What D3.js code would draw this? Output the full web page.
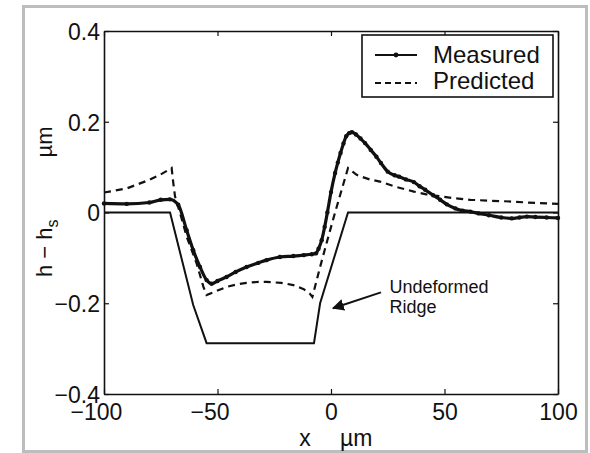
<!DOCTYPE html>
<html>
<head>
<meta charset="utf-8">
<script src="https://cdn.jsdelivr.net/npm/d3@7"></script>
<style>
  body { margin: 0; background: #fff; }
  text { font-family: "Liberation Sans", Arial, sans-serif; fill: #111; }
</style>
</head>
<body>
<div id="chart"></div>
<script>
// measured profile (solid, dots)
const measuredX = [-100, -90, -80, -75, -71, -67.3, -63.6, -60.7, -57.7, -54.8, -52.6, -50, -46, -42, -37.2, -32, -28.4, -22.5, -16.6, -12, -8.5, -6.6, -5.5, -4.1, -2.8, -1.6, 0, 1.8, 3, 4.2, 5.5, 6.7, 8, 9.2, 11, 13, 15, 17.5, 20, 22, 25, 28, 30, 33, 36.5, 39, 41.5, 45, 48.1, 51, 54.8, 58, 61.4, 65, 69.6, 75, 79.6, 83, 86.3, 90, 95, 100];
const measuredY = [0.020, 0.019, 0.022, 0.028, 0.029, 0.017, -0.039, -0.083, -0.120, -0.149, -0.157, -0.151, -0.142, -0.131, -0.120, -0.111, -0.105, -0.098, -0.096, -0.094, -0.092, -0.090, -0.080, -0.061, -0.032, 0.000, 0.045, 0.087, 0.110, 0.131, 0.152, 0.168, 0.175, 0.177, 0.172, 0.163, 0.153, 0.138, 0.123, 0.109, 0.090, 0.082, 0.079, 0.073, 0.067, 0.058, 0.050, 0.038, 0.028, 0.018, 0.009, 0.004, 0.002, -0.002, -0.006, -0.011, -0.013, -0.011, -0.009, -0.010, -0.011, -0.012];

// predicted profile (dashed)
const predictedX = [-100, -90, -80, -75, -70.2, -69.6, -68.7, -66, -63.6, -59.2, -56.2, -54.8, -50, -46, -42, -37.2, -32, -28.4, -22, -16.6, -12, -9.3, -8.2, -4.8, -1.6, 1.8, 5.1, 7.5, 9.5, 11.3, 13.4, 17, 21.6, 28.3, 36.5, 42, 49, 55, 61.4, 70, 80, 90, 100];
const predictedY = [0.044, 0.053, 0.072, 0.084, 0.098, 0.070, 0.035, -0.010, -0.053, -0.112, -0.164, -0.182, -0.172, -0.164, -0.159, -0.155, -0.153, -0.153, -0.155, -0.160, -0.169, -0.179, -0.186, -0.120, -0.061, 0.000, 0.057, 0.098, 0.090, 0.083, 0.079, 0.073, 0.068, 0.057, 0.046, 0.040, 0.035, 0.031, 0.028, 0.026, 0.024, 0.021, 0.019];

// undeformed ridge (thin solid)
const ridgeX = [-100, -70.9, -60.7, -54.8, -7.5, -4.8, 7.5, 100];
const ridgeY = [0, 0, -0.204, -0.288, -0.288, -0.2, 0, 0];

const xTicks = [-100, -50, 0, 50, 100];
const yTicks = [-0.4, -0.2, 0, 0.2, 0.4];
const legendLabels = ["Measured", "Predicted"];

const width = 590, height = 453;
const margin = { top: 31, right: 32, bottom: 59, left: 104 };

const svg = d3.select("#chart").append("svg")
  .attr("width", width)
  .attr("height", height);

// outer grey frame
svg.append("rect")
  .attr("x", 23.5).attr("y", 6.5)
  .attr("width", 563).attr("height", 445)
  .attr("fill", "#fff")
  .attr("stroke", "#bdbdbd")
  .attr("stroke-width", 3);

const x = d3.scaleLinear().domain([-100, 100]).range([margin.left, width - margin.right]);
const y = d3.scaleLinear().domain([-0.4, 0.4]).range([height - margin.bottom, margin.top]);

const fmtX = d => d < 0 ? "\u2212" + Math.abs(d) : String(d);
const fmtY = d => d === 0 ? "0" : (d < 0 ? "\u2212" : "") + Math.abs(d).toFixed(1);

// axes, ticks inward on all four sides
const tickLen = 5;
svg.append("g")
  .attr("transform", `translate(0,${y(-0.4)})`)
  .call(d3.axisBottom(x).tickValues(xTicks).tickSizeInner(-tickLen).tickSizeOuter(0).tickPadding(10).tickFormat(fmtX))
  .call(g => g.selectAll("text").attr("font-size", 23)
    .attr("dx", d => d < 0 ? -8 : 0));
svg.append("g")
  .attr("transform", `translate(0,${y(0.4)})`)
  .call(d3.axisTop(x).tickValues(xTicks).tickSizeInner(-tickLen).tickSizeOuter(0).tickFormat(""));
svg.append("g")
  .attr("transform", `translate(${x(-100)},0)`)
  .call(d3.axisLeft(y).tickValues(yTicks).tickSizeInner(-tickLen).tickSizeOuter(0).tickPadding(4).tickFormat(fmtY))
  .call(g => g.selectAll("text").attr("font-size", 23).attr("dy", "0.36em"));
svg.append("g")
  .attr("transform", `translate(${x(100)},0)`)
  .call(d3.axisRight(y).tickValues(yTicks).tickSizeInner(-tickLen).tickSizeOuter(0).tickFormat(""));

svg.selectAll(".domain").attr("stroke", "#111").attr("stroke-width", 1.6);
svg.selectAll(".tick line").attr("stroke", "#111").attr("stroke-width", 1.2);
svg.selectAll(".tick text").attr("fill", "#111").style("font-family", "'Liberation Sans', Arial, sans-serif");

const line = d3.line().x(d => x(d[0])).y(d => y(d[1]));

const ridge = ridgeX.map((v, i) => [v, ridgeY[i]]);
const measured = measuredX.map((v, i) => [v, measuredY[i]]);
const predicted = predictedX.map((v, i) => [v, predictedY[i]]);

svg.append("path").datum(ridge)
  .attr("d", line).attr("fill", "none")
  .attr("stroke", "#111").attr("stroke-width", 2);

svg.append("path").datum(predicted)
  .attr("d", line).attr("fill", "none")
  .attr("stroke", "#111").attr("stroke-width", 2.2)
  .attr("stroke-dasharray", "7,5");

svg.append("path").datum(measured)
  .attr("d", d3.line().x(d => x(d[0])).y(d => y(d[1])).curve(d3.curveMonotoneX))
  .attr("fill", "none")
  .attr("stroke", "#111").attr("stroke-width", 3.2)
  .attr("stroke-linejoin", "round");

svg.append("g").selectAll("circle")
  .data(measured)
  .join("circle")
  .attr("cx", d => x(d[0])).attr("cy", d => y(d[1]))
  .attr("r", 2.2).attr("fill", "#111");

// annotation
svg.append("defs").append("marker")
  .attr("id", "arrow")
  .attr("viewBox", "0 0 10 10")
  .attr("refX", 9).attr("refY", 5)
  .attr("markerWidth", 6).attr("markerHeight", 6)
  .attr("orient", "auto")
  .append("path").attr("d", "M0,0 L10,5 L0,10 z").attr("fill", "#111");

svg.append("line")
  .attr("x1", x(22)).attr("y1", y(-0.176))
  .attr("x2", x(0.9)).attr("y2", y(-0.211))
  .attr("stroke", "#111").attr("stroke-width", 2)
  .attr("marker-end", "url(#arrow)");

svg.append("text").attr("x", x(25.8)).attr("y", y(-0.178))
  .attr("font-size", 18).text("Undeformed");
svg.append("text").attr("x", x(25.8)).attr("y", y(-0.222))
  .attr("font-size", 18).text("Ridge");

// legend
const legend = svg.append("g").attr("transform", "translate(362,35)");
legend.append("rect")
  .attr("width", 191).attr("height", 62)
  .attr("fill", "#fff").attr("stroke", "#111").attr("stroke-width", 1.6);

legend.selectAll("line")
  .data(legendLabels)
  .join("line")
  .attr("x1", 13).attr("x2", 55)
  .attr("y1", (d, i) => 20 + i * 28).attr("y2", (d, i) => 20 + i * 28)
  .attr("stroke", "#111")
  .attr("stroke-width", (d, i) => i === 0 ? 1.8 : 2.2)
  .attr("stroke-dasharray", (d, i) => i === 0 ? null : "6,4");
legend.append("circle").attr("cx", 34).attr("cy", 20).attr("r", 2.4).attr("fill", "#111");

legend.selectAll("text")
  .data(legendLabels)
  .join("text")
  .attr("x", 71).attr("y", (d, i) => 28 + i * 26)
  .attr("font-size", 24)
  .text(d => d);

// axis labels
svg.append("text")
  .attr("x", 305).attr("y", 446)
  .attr("text-anchor", "middle").attr("font-size", 23).text("x");
svg.append("text")
  .attr("x", 340).attr("y", 446)
  .attr("font-size", 23).text("µm");

const yl = svg.append("text")
  .attr("transform", "translate(52,277) rotate(-90)")
  .attr("font-size", 22);
yl.append("tspan").text("h \u2212 h");
yl.append("tspan").attr("font-size", 16).attr("dy", 6).text("s");
yl.append("tspan").attr("dy", -6).attr("dx", 62).text("µm");
</script>
</body>
</html>
